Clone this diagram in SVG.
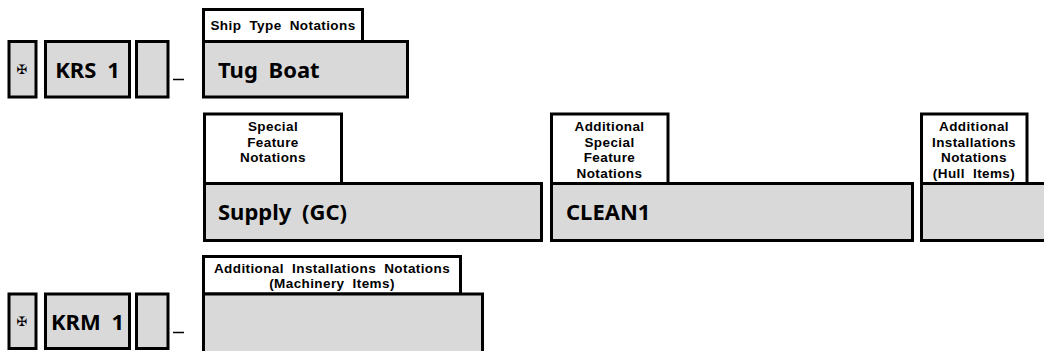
<svg xmlns="http://www.w3.org/2000/svg" width="1044" height="351" viewBox="0 0 1044 351">
  <style>
    .box { fill: #d9d9d9; stroke: #000; stroke-width: 3; }
    .lbl { fill: #fff; stroke: #000; stroke-width: 3; }
    .big { font-family: "Noto Sans", "Open Sans", "Liberation Sans", sans-serif; font-weight: bold; font-size: 22px; word-spacing: 5px; fill: #000; }
    .small { font-family: "Liberation Sans", Arial, sans-serif; font-weight: bold; font-size: 13.5px; word-spacing: 4px; letter-spacing: 0.4px; fill: #000; text-anchor: middle; }
    .cross { font-family: "DejaVu Sans", sans-serif; font-size: 13px; fill: #000; text-anchor: middle; }
    .dash { stroke: #000; stroke-width: 1.5; }
  </style>
  <rect width="1044" height="351" fill="#fff"/>

  <!-- Row 1: KRS -->
  <g id="krs-cross">
    <rect class="box" x="9" y="41.5" width="27" height="55.5"/>
    <text class="cross" x="22" y="74">✠</text>
  </g>
  <g id="krs-class">
    <rect class="box" x="45.5" y="41.5" width="84" height="55.5"/>
    <text class="big" x="87.5" y="77.5" text-anchor="middle">KRS 1</text>
  </g>
  <g id="krs-empty">
    <rect class="box" x="136.5" y="41.5" width="31.5" height="55.5"/>
  </g>
  <g id="ship-type">
    <rect class="lbl" x="203.5" y="9.5" width="159" height="32"/>
    <text class="small" x="283" y="30">Ship Type Notations</text>
    <rect class="box" x="203.5" y="41.5" width="204" height="55.5"/>
    <text class="big" x="218" y="77.5">Tug Boat</text>
  </g>

  <!-- Row 2: notations -->
  <g id="special-feature">
    <rect class="lbl" x="204.5" y="114" width="137" height="69.5"/>
    <text class="small" x="273" y="131">Special</text>
    <text class="small" x="273" y="146.5">Feature</text>
    <text class="small" x="273" y="162">Notations</text>
    <rect class="box" x="204.5" y="183.5" width="337" height="57"/>
    <text class="big" x="218" y="220">Supply (GC)</text>
  </g>
  <g id="additional-special-feature">
    <rect class="lbl" x="551.5" y="114" width="116.5" height="69.5"/>
    <text class="small" x="609.5" y="131">Additional</text>
    <text class="small" x="609.5" y="146.5">Special</text>
    <text class="small" x="609.5" y="162">Feature</text>
    <text class="small" x="609.5" y="177.5">Notations</text>
    <rect class="box" x="551.5" y="183.5" width="361" height="57"/>
    <text class="big" x="566" y="220">CLEAN1</text>
  </g>
  <g id="additional-installations-hull">
    <rect class="lbl" x="921.5" y="114" width="105.5" height="69.5"/>
    <text class="small" x="974" y="131">Additional</text>
    <text class="small" x="974" y="146.5">Installations</text>
    <text class="small" x="974" y="162">Notations</text>
    <text class="small" x="974" y="177.5">(Hull Items)</text>
    <rect class="box" x="921.5" y="183.5" width="130" height="57"/>
  </g>

  <!-- Row 3: KRM -->
  <g id="krm-cross">
    <rect class="box" x="9" y="294" width="27" height="54.5"/>
    <text class="cross" x="22" y="326">✠</text>
  </g>
  <g id="krm-class">
    <rect class="box" x="45.5" y="294" width="84" height="54.5"/>
    <text class="big" x="87.5" y="329.5" text-anchor="middle">KRM 1</text>
  </g>
  <g id="krm-empty">
    <rect class="box" x="136.5" y="294" width="31.5" height="54.5"/>
  </g>
  <g id="additional-installations-machinery">
    <rect class="lbl" x="203.5" y="256.5" width="257" height="37.5"/>
    <text class="small" x="332" y="272.5">Additional Installations Notations</text>
    <text class="small" x="332" y="288">(Machinery Items)</text>
    <rect class="box" x="203.5" y="294" width="279" height="70"/>
  </g>

  <g id="connectors">
    <line class="dash" x1="173" y1="79.5" x2="184" y2="79.5"/>
    <line class="dash" x1="173" y1="332.5" x2="184" y2="332.5"/>
  </g>
</svg>
